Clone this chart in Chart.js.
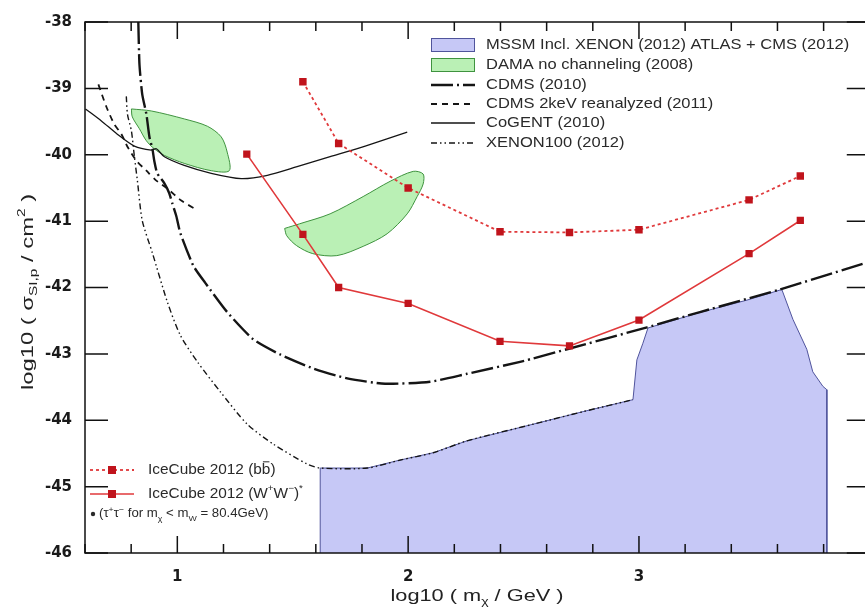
<!DOCTYPE html>
<html lang="en">
<head>
<meta charset="UTF-8">
<title>IceCube 2012 spin-independent WIMP limits</title>
<script src="https://cdn.jsdelivr.net/npm/chart.js"></script>
<style>
  html, body { margin: 0; padding: 0; background: #fff; overflow: hidden; }
  #wrap { position: relative; width: 890px; height: 613px; }
</style>
</head>
<body>
<div id="wrap"><canvas id="limits"></canvas></div>
<script>
// ---- values, all in log10 units ----
// IceCube 2012 (muon neutrino) limits, log10(m / GeV)
const iceMass = [1.301, 1.544, 1.699, 2.0, 2.398, 2.699, 3.0, 3.477, 3.699];
const iceBB   = [null, -38.90, -39.83, -40.50, -41.16, -41.17, -41.13, -40.68, -40.32];
const iceWW   = [-39.99, -41.20, -42.00, -42.24, -42.81, -42.88, -42.49, -41.49, -40.99];

// CDMS (2010)
const cdmsX = [0.831, 0.836, 0.848, 0.866, 0.879, 0.892, 0.900, 0.913, 0.944, 0.965, 0.978, 0.996, 1.013, 1.069, 1.121, 1.216, 1.329, 1.446, 1.589, 1.736, 1.900, 2.095, 2.255, 2.485, 2.688, 3.035, 3.264, 3.610, 4.0];
const cdmsY = [-38.00, -38.64, -39.09, -39.39, -39.73, -39.91, -40.09, -40.28, -40.43, -40.58, -40.73, -40.93, -41.18, -41.67, -41.93, -42.37, -42.78, -43.01, -43.22, -43.37, -43.45, -43.42, -43.30, -43.12, -42.93, -42.60, -42.37, -42.03, -41.61];

// CDMS 2keV reanalyzed (2011)
const cdms2X = [0.658, 0.693, 0.727, 0.758, 0.784, 0.823, 0.866, 0.909, 0.957, 1.017, 1.074];
const cdms2Y = [-38.94, -39.28, -39.54, -39.69, -39.88, -40.09, -40.24, -40.39, -40.51, -40.69, -40.81];

// CoGENT (2010)
const cogentX = [0.602, 0.671, 0.740, 0.814, 0.887, 0.909, 0.944, 1.030, 1.147, 1.277, 1.390, 1.519, 1.662, 1.814, 1.996];
const cogentY = [-39.31, -39.49, -39.69, -39.87, -39.93, -39.91, -40.03, -40.16, -40.28, -40.36, -40.31, -40.18, -40.03, -39.87, -39.66];

// XENON100 (2012)
const xenonX = [0.779, 0.784, 0.801, 0.814, 0.827, 0.848, 0.892, 0.957, 1.013, 1.087, 1.186, 1.303, 1.416, 1.563, 1.619, 1.823, 1.965, 2.108, 2.255, 2.541, 2.758, 2.974];
const xenonY = [-39.12, -39.39, -39.64, -40.03, -40.39, -40.99, -41.48, -42.22, -42.72, -43.12, -43.57, -44.06, -44.36, -44.66, -44.72, -44.72, -44.60, -44.49, -44.31, -44.06, -43.87, -43.69];

// MSSM incl. XENON (2012), ATLAS + CMS (2012): allowed region outline
const mssmX = [1.619, 1.619, 1.823, 1.965, 2.108, 2.255, 2.541, 2.758, 2.974, 2.991, 3.017, 3.039, 3.260, 3.468, 3.619, 3.667, 3.727, 3.753, 3.797, 3.814, 3.814];
const mssmY = [-46, -44.72, -44.72, -44.60, -44.49, -44.31, -44.06, -43.87, -43.69, -43.09, -42.84, -42.61, -42.38, -42.19, -42.03, -42.48, -42.93, -43.27, -43.49, -43.54, -46];

// DAMA no channeling (2008): two closed contours
const dama1X = [0.801, 0.887, 1.030, 1.130, 1.190, 1.216, 1.225, 1.147, 1.030, 0.944, 0.900, 0.866, 0.836, 0.805, 0.801];
const dama1Y = [-39.31, -39.34, -39.46, -39.57, -39.73, -39.96, -40.24, -40.24, -40.13, -40.01, -39.91, -39.79, -39.61, -39.43, -39.31];
const dama2X = [1.465, 1.530, 1.662, 1.805, 1.922, 2.022, 2.065, 2.065, 2.039, 1.996, 1.909, 1.805, 1.691, 1.587, 1.517, 1.474, 1.465];
const dama2Y = [-41.11, -41.04, -40.89, -40.63, -40.40, -40.25, -40.29, -40.44, -40.63, -40.89, -41.19, -41.38, -41.52, -41.49, -41.37, -41.22, -41.11];

// axis ranges
const massRange = [0.6, 4.0];
const sigmaRange = [-46, -38];
const minorStep = 0.2;

// ---- styles ----
const FONT = '"Liberation Sans", Arial, Helvetica, sans-serif';
const red = '#e0393b', redDark = '#c0141c';
const sBB    = { color: red, width: 1.8, dash: [3, 3] };
const sWW    = { color: red, width: 1.6, dash: [] };
const sCDMS  = { color: '#151515', width: 2.4, dash: [22, 4, 2, 4] };
const sCDMS2 = { color: '#151515', width: 1.8, dash: [6, 5] };
const sCoG   = { color: '#151515', width: 1.3, dash: [] };
const sXEN   = { color: '#151515', width: 1.4, dash: [6, 3, 1.5, 3, 1.5, 3] };
const blueFill = '#c6c8f6', blueEdge = '#50549c';
const greenFill = '#baf0b5', greenEdge = '#3f933f';

const pts = (xs, ys) => xs.map((x, i) => ({ x, y: ys[i] })).filter(p => p.y !== null);

function curve(label, xs, ys, s, extra) {
  return Object.assign({
    label, data: pts(xs, ys), borderColor: s.color, borderWidth: s.width,
    borderDash: s.dash, pointRadius: 0, tension: 0.25, fill: false, order: 1
  }, extra || {});
}

function richText(ctx, segs, x, y, size, align, stretch) {
  ctx.save();
  ctx.translate(x, y);
  ctx.scale(stretch || 1.1, 1);
  ctx.textBaseline = 'middle';
  ctx.textAlign = 'left';
  const fontFor = k => (k === 'sub' || k === 'sup' ? Math.round(size * 0.66) : size) + 'px ' + FONT;
  let total = 0;
  segs.forEach(([t, k]) => { ctx.font = fontFor(k); total += ctx.measureText(t).width; });
  let cx = align === 'center' ? -total / 2 : 0;
  segs.forEach(([t, k]) => {
    ctx.font = fontFor(k);
    const dy = k === 'sub' ? size * 0.38 : k === 'sup' ? -size * 0.36 : 0;
    ctx.fillText(t, cx, dy);
    const w = ctx.measureText(t).width;
    if (k === 'bar') {
      ctx.fillRect(cx + w * 0.12, -size * 0.62, w * 0.76, 1);
    }
    cx += w;
  });
  ctx.restore();
}

function sample(ctx, x0, x1, y, s) {
  ctx.save();
  ctx.strokeStyle = s.color;
  ctx.lineWidth = s.width;
  ctx.setLineDash(s.dash);
  ctx.beginPath();
  ctx.moveTo(x0, y);
  ctx.lineTo(x1, y);
  ctx.stroke();
  ctx.restore();
}

const framePlugin = {
  id: 'frame',
  afterDraw(chart) {
    const { ctx, chartArea: a, scales: { x, y } } = chart;
    ctx.save();
    ctx.strokeStyle = '#111';
    ctx.lineWidth = 1.5;
    ctx.strokeRect(a.left, a.top, a.right - a.left, a.bottom - a.top);

    // inward ticks
    ctx.beginPath();
    const nMinor = Math.round((massRange[1] - massRange[0]) / minorStep);
    for (let i = 0; i <= nMinor; i++) {
      const v = massRange[0] + i * minorStep;
      const major = Math.abs(v - Math.round(v)) < 1e-6;
      const len = major ? 17 : 9;
      const px = x.getPixelForValue(v);
      ctx.moveTo(px, a.bottom); ctx.lineTo(px, a.bottom - len);
      ctx.moveTo(px, a.top); ctx.lineTo(px, a.top + len);
    }
    for (let v = sigmaRange[0]; v <= sigmaRange[1]; v++) {
      const py = y.getPixelForValue(v);
      ctx.moveTo(a.left, py); ctx.lineTo(a.left + 23, py);
      ctx.moveTo(a.right, py); ctx.lineTo(a.right - 23, py);
    }
    ctx.stroke();

    // axis titles
    ctx.fillStyle = '#222';
    richText(ctx, [['log10 ( m'], ['\u03C7', 'sub'], [' / GeV )']], 477, 596, 17, 'center', 1.28);
    ctx.save();
    ctx.translate(28, 292);
    ctx.rotate(-Math.PI / 2);
    richText(ctx, [['log10 ( \u03C3'], ['SI,p', 'sub'], [' / cm'], ['2', 'sup'], [' )']], 0, 0, 17, 'center', 1.4);
    ctx.restore();

    // legend, upper right
    const lx0 = 431, lx1 = 475, tx = 486;
    const rows = [45, 65, 85, 104, 123, 143];
    [[blueFill, blueEdge], [greenFill, greenEdge]].forEach(([f, e], i) => {
      ctx.fillStyle = f;
      ctx.fillRect(lx0, rows[i] - 7, lx1 - lx0, 14);
      ctx.strokeStyle = e;
      ctx.lineWidth = 1;
      ctx.strokeRect(lx0 + 0.5, rows[i] - 6.5, lx1 - lx0 - 1, 13);
    });
    sample(ctx, lx0, lx1, rows[2], sCDMS);
    sample(ctx, lx0, lx1, rows[3], sCDMS2);
    sample(ctx, lx0, lx1, rows[4], sCoG);
    sample(ctx, lx0, lx1, rows[5], sXEN);
    ctx.fillStyle = '#2a2a2a';
    const labels = ['MSSM Incl. XENON (2012) ATLAS + CMS (2012)', 'DAMA no channeling (2008)',
      'CDMS (2010)', 'CDMS 2keV reanalyzed (2011)', 'CoGENT (2010)', 'XENON100 (2012)'];
    labels.forEach((t, i) => richText(ctx, [[t]], tx, rows[i], 15, 'left'));

    // legend, lower left
    const bRows = [470, 494, 514];
    [sBB, sWW].forEach((s, i) => {
      sample(ctx, 90, 134, bRows[i], s);
      ctx.fillStyle = redDark;
      ctx.fillRect(108, bRows[i] - 4, 8, 8);
    });
    ctx.fillStyle = '#2a2a2a';
    richText(ctx, [['IceCube 2012 (b'], ['b', 'bar'], [')']], 148, bRows[0], 14, 'left');
    richText(ctx, [['IceCube 2012 (W'], ['+', 'sup'], ['W'], ['\u2212', 'sup'], [')'], ['*', 'sup']], 148, bRows[1], 14, 'left');
    ctx.beginPath();
    ctx.arc(93, bRows[2], 2.2, 0, Math.PI * 2);
    ctx.fill();
    richText(ctx, [['(\u03C4'], ['+', 'sup'], ['\u03C4'], ['\u2212', 'sup'], [' for m'], ['\u03C7', 'sub'],
      [' < m'], ['W', 'sub'], [' = 80.4GeV)']], 99, bRows[2], 12, 'left');
    ctx.restore();
  }
};

const tickFont = { family: '"DejaVu Sans", sans-serif', weight: 'bold', size: 15 };

new Chart(document.getElementById('limits'), {
  type: 'line',
  data: {
    datasets: [
      curve('IceCube 2012 (bb)', iceMass, iceBB, sBB, {
        tension: 0, pointRadius: 4, pointStyle: 'rect',
        pointBackgroundColor: redDark, pointBorderColor: redDark, order: 0
      }),
      curve('IceCube 2012 (WW)', iceMass, iceWW, sWW, {
        tension: 0, pointRadius: 4, pointStyle: 'rect',
        pointBackgroundColor: redDark, pointBorderColor: redDark, order: 0
      }),
      curve('CDMS (2010)', cdmsX, cdmsY, sCDMS, { tension: 0.2 }),
      curve('CDMS 2keV reanalyzed (2011)', cdms2X, cdms2Y, sCDMS2),
      curve('CoGENT (2010)', cogentX, cogentY, sCoG),
      curve('XENON100 (2012)', xenonX, xenonY, sXEN),
      {
        label: 'DAMA no channeling (2008)', data: pts(dama1X, dama1Y), fill: 'shape',
        backgroundColor: greenFill, borderColor: greenEdge, borderWidth: 1, pointRadius: 0, tension: 0.3, order: 4
      },
      {
        label: 'DAMA no channeling (2008) b', data: pts(dama2X, dama2Y), fill: 'shape',
        backgroundColor: greenFill, borderColor: greenEdge, borderWidth: 1, pointRadius: 0, tension: 0.3, order: 4
      },
      {
        label: 'MSSM Incl. XENON (2012) ATLAS + CMS (2012)', data: pts(mssmX, mssmY), fill: 'start',
        backgroundColor: blueFill, borderColor: blueEdge, borderWidth: 1, pointRadius: 0, tension: 0, order: 5
      }
    ]
  },
  options: {
    responsive: true,
    maintainAspectRatio: false,
    animation: false,
    events: [],
    layout: { padding: { top: 17, right: 20, left: 0, bottom: 0 } },
    plugins: { legend: { display: false }, tooltip: { enabled: false } },
    scales: {
      x: {
        type: 'linear', min: massRange[0], max: massRange[1],
        grid: { display: false, drawTicks: false }, border: { display: false },
        ticks: { stepSize: 1, includeBounds: false, padding: 15, font: tickFont, color: '#1a1a1a', callback: v => String(v) },
        afterFit: s => { s.height = 60; }
      },
      y: {
        type: 'linear', min: sigmaRange[0], max: sigmaRange[1],
        grid: { display: false, drawTicks: false }, border: { display: false },
        ticks: { stepSize: 1, includeBounds: false, padding: 13, font: tickFont, color: '#1a1a1a', callback: v => String(v) },
        afterFit: s => { s.width = 85; }
      }
    }
  },
  plugins: [framePlugin]
});
</script>
</body>
</html>
